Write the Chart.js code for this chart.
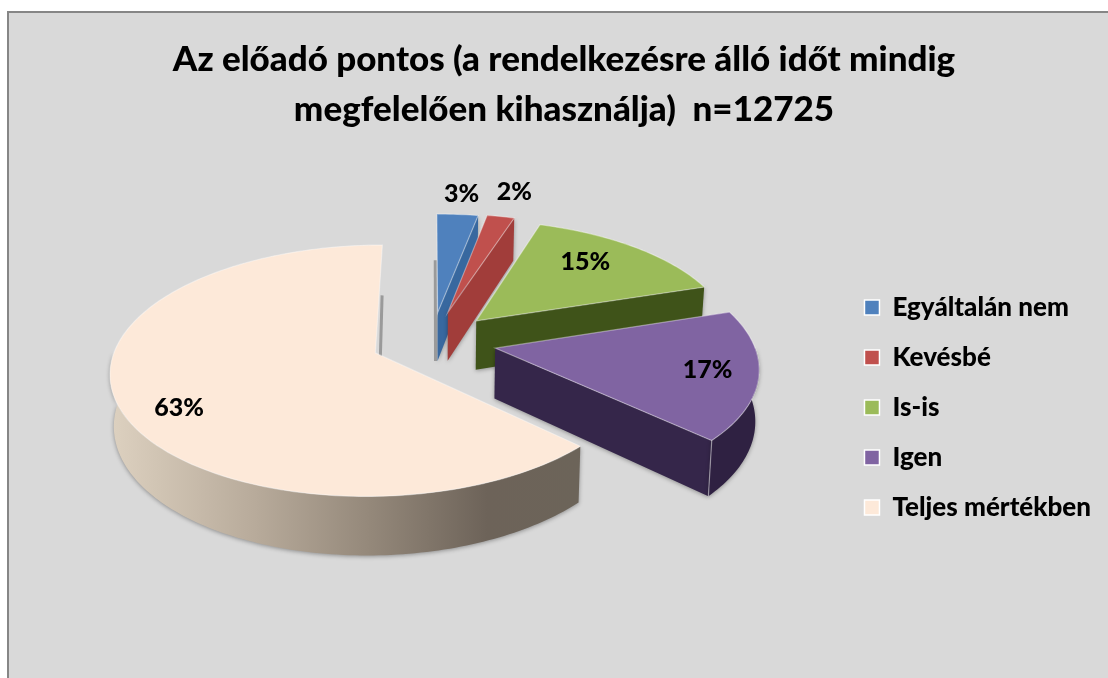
<!DOCTYPE html>
<html><head><meta charset="utf-8">
<script src="https://cdn.jsdelivr.net/npm/chart.js@4"></script>
<style>
html,body{margin:0;padding:0;background:#fff;overflow:hidden}
#wrap{position:absolute;left:7px;top:11px;width:1099px;height:665px;border-left:2px solid #868686;border-top:2px solid #868686;background:#D9D9D9}
canvas{display:block}
</style></head><body>
<div id="wrap"><canvas id="c" width="1099" height="665"></canvas></div>
<script>
const titleLines = ['Az előadó pontos (a rendelkezésre álló időt mindig', 'megfelelően kihasználja)  n=12725'];
const categories = ['Egyáltalán nem', 'Kevésbé', 'Is-is', 'Igen', 'Teljes mértékben'];
const values = [3, 2, 15, 17, 63];
const topColors = ['#4F81BD', '#C0504D', '#9BBB59', '#8064A2', '#FDE9D9'];
const wallColors = ['#38689F', '#A13D3A', '#3F5319', '#35264A', '#8d8070'];
const explode = [0.25, 0.26, 0.25, 0.25, 0.235];
const labelRadius = [1.24, 1.3, 0.73, 0.81, 0.81];
const labelAngleShift = [0, 0, -4, 0, -7.8];
const tilt = 0.465, persp = 0.14, depth = 50, taper = 0.012, pieRise = 66, pieShift = -2;

const pie3d = {
  id: 'pie3d',
  beforeDatasetDraw(chart, args) {
    const ctx = chart.ctx, arcs = chart.getDatasetMeta(args.index).data;
    const place = (el, i, th, r, z) => {
      const mid = (el.startAngle + el.endAngle) / 2;
      const u = Math.cos(mid) * explode[i] + Math.cos(th) * r;
      const v = Math.sin(mid) * explode[i] + Math.sin(th) * r;
      const w = 1 / (1 - persp * v), R = el.outerRadius;
      return [el.x + pieShift + R * u * w * (1 - taper * z), el.y - pieRise + R * tilt * v * w + depth * w * z];
    };
    const outline = (pts) => { ctx.beginPath(); pts.forEach((p, k) => k ? ctx.lineTo(p[0], p[1]) : ctx.moveTo(p[0], p[1])); ctx.closePath(); };
    const arcPts = (el, i, a, b, z) => {
      const n = Math.max(2, Math.ceil(Math.abs(b - a) / 0.02)), o = [];
      for (let k = 0; k <= n; k++) o.push(place(el, i, a + (b - a) * k / n, 1, z));
      return o;
    };
    arcs.forEach((el, i) => {
      const a = el.startAngle, b = el.endAngle;
      ctx.save();
      ctx.shadowColor = 'rgba(0,0,0,0.35)'; ctx.shadowBlur = 4; ctx.shadowOffsetY = 1;
      ctx.fillStyle = wallColors[i];
      const ra = Math.max(a, 0), rb = Math.min(b, Math.PI);
      if (Math.cos(b) > 0.001) {
        outline([place(el, i, b, 0, 0), place(el, i, b, 1, 0), place(el, i, b, 1, 1), place(el, i, b, 0, 1)]);
        ctx.fill();
      }
      if (rb > ra) {
        const topEdge = arcPts(el, i, ra, rb, 0), botEdge = arcPts(el, i, rb, ra, 1);
        outline(topEdge.concat(botEdge));
        if (i === 4) {
          const p0 = place(el, i, rb, 1, 0)[0], p1 = place(el, i, ra, 1, 0)[0];
          const g = ctx.createLinearGradient(p0, 0, p1, 0);
          g.addColorStop(0, '#DCD0BF'); g.addColorStop(0.3, '#B8AB9B'); g.addColorStop(0.55, '#94887A');
          g.addColorStop(0.8, '#6D6359'); g.addColorStop(1, '#6C6459');
          ctx.fillStyle = g;
        } else ctx.fillStyle = '#2F2142';
        ctx.fill();
      }
      ctx.restore();

      if (Math.abs(Math.cos(a)) < 0.001 || Math.abs(Math.cos(b)) < 0.001) {
        const th = Math.abs(Math.cos(a)) < 0.001 ? a : b, side = th === a ? -2 : 3;
        const p = place(el, i, th, 0, 1), q = place(el, i, th, 0.5, 0);
        ctx.strokeStyle = '#9A9A9A'; ctx.lineWidth = 3;
        ctx.beginPath(); ctx.moveTo(p[0] + side, p[1]); ctx.lineTo(q[0] + side, q[1]); ctx.stroke();
      }

      outline([place(el, i, a, 0, 0)].concat(arcPts(el, i, a, b, 0)));
      ctx.fillStyle = topColors[i]; ctx.fill();
      ctx.strokeStyle = 'rgba(255,255,255,0.38)'; ctx.lineWidth = 1.2; ctx.stroke();

      if (Math.cos(b) > 0.001 && Math.sin(b) > 0) {
        const p = place(el, i, b, 1, 0), q = place(el, i, b, 1, 1);
        ctx.strokeStyle = 'rgba(255,255,255,0.45)';
        ctx.beginPath(); ctx.moveTo(p[0], p[1]); ctx.lineTo(q[0], q[1]); ctx.stroke();
      }
    });
    ctx.fillStyle = '#000'; ctx.font = '900 25px Lato'; ctx.textAlign = 'center'; ctx.textBaseline = 'middle';
    arcs.forEach((el, i) => {
      const mid = (el.startAngle + el.endAngle) / 2 + labelAngleShift[i] * Math.PI / 180;
      const p = place(el, i, mid, labelRadius[i], 0);
      ctx.fillText(values[i] + '%', p[0], p[1]);
    });
    return false;
  }
};

new Chart(document.getElementById('c'), {
  type: 'pie',
  plugins: [pie3d],
  data: { labels: categories, datasets: [{ data: values, backgroundColor: topColors, borderColor: '#fff', borderWidth: 1.5, radius: 258 }] },
  options: {
    responsive: false, animation: false, events: [],
    layout: { padding: { left: 18, right: 7, top: 12, bottom: 14 } },
    plugins: {
      tooltip: { enabled: false },
      title: { display: true, text: titleLines, color: '#000', font: { family: 'Lato', weight: '900', size: 35, lineHeight: 1.43 }, padding: { top: 10, bottom: 16 } },
      legend: { position: 'right', align: 'center', fullSize: false, labels: { color: '#000', boxWidth: 15, boxHeight: 15, padding: 24, font: { family: 'Lato', weight: '900', size: 26 } } }
    }
  }
});
</script>
</body></html>
